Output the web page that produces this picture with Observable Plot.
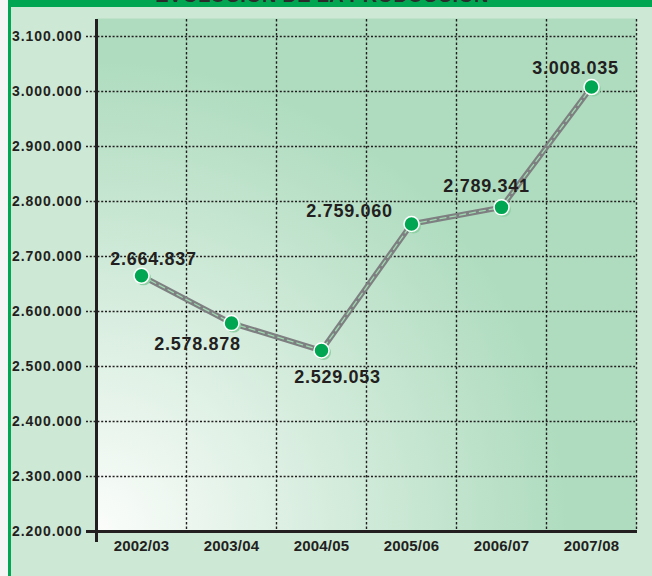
<!DOCTYPE html>
<html>
<head>
<meta charset="utf-8">
<script src="https://cdn.jsdelivr.net/npm/d3@7"></script>
<script src="https://cdn.jsdelivr.net/npm/@observablehq/plot@0.6"></script>
<style>
  html, body { margin: 0; padding: 0; background: #ffffff; }
  #wrap { position: relative; width: 652px; height: 576px; background: #cde8d5; overflow: hidden;
          font-family: "Liberation Sans", Arial, Helvetica, sans-serif; }
  #strip { position: absolute; left: 0; top: 0; width: 8px; height: 576px; background: #f4f5f4; }
  #vline { position: absolute; left: 8px; top: 0; width: 3px; height: 576px; background: #00a651; }
  #band { position: absolute; left: 8px; top: 0; width: 644px; height: 7px; background: #00a651; overflow: hidden; }
  #title { position: absolute; left: 0; width: 100%; top: -15.5px; line-height: 20px; text-align: center;
           font-size: 20px; font-weight: bold; color: #2b2b2b; letter-spacing: 0.3px; margin-left: -8px; }
  #chart { position: absolute; left: 0; top: 0; }
  #chart svg { background: transparent; overflow: visible; }
  g[aria-label="y-axis tick label"] text { letter-spacing: 0.9px; }
  g[aria-label="x-axis tick label"] text { letter-spacing: 0.2px; }
  g[aria-label="text"] text { letter-spacing: 0.7px; }
</style>
</head>
<body>
<div id="wrap">
  <div id="strip"></div>
  <div id="vline"></div>
  <div id="band"><div id="title">EVOLUCIÓN DE LA PRODUCCIÓN</div></div>
  <div id="chart"></div>
</div>
<script>
// ---- data ----
const seasons = ["2002/03", "2003/04", "2004/05", "2005/06", "2006/07", "2007/08"];
const production = [2664837, 2578878, 2529053, 2759060, 2789341, 3008035];
const yTicks = [2200000, 2300000, 2400000, 2500000, 2600000, 2700000, 2800000, 2900000, 3000000, 3100000];
// label offsets (relative to each point)
const labelDx = [12, -34, 16, -62, -15, -16];
const labelDy = [-17, 21, 27, -13, -21, -19];

const W = 652, H = 576, ML = 96, MR = 16, MT = 18, MB = 45;
const bw = (W - ML - MR) / seasons.length;

const es = d3.formatLocale({decimal: ",", thousands: ".", grouping: [3], currency: ["", ""]});
const fmt = es.format(",");

const rows = seasons.map((s, i) => ({season: s, value: production[i], dx: labelDx[i], dy: labelDy[i]}));

const textMarks = rows.map(r => Plot.text([r], {
  x: "season", y: "value", text: d => fmt(d.value),
  dx: r.dx, dy: r.dy, fontSize: 18, fontWeight: "bold", fill: "#231f20"
}));

const chart = Plot.plot({
  width: W, height: H,
  marginLeft: ML, marginRight: MR, marginTop: MT, marginBottom: MB,
  style: {fontFamily: '"Liberation Sans", Arial, Helvetica, sans-serif', background: "transparent", color: "#231f20"},
  x: {type: "band", domain: seasons, padding: 0, label: null},
  y: {domain: [2200000, 3132700], label: null},
  marks: [
    Plot.frame({fill: "url(#bggrad)", stroke: null}),
    Plot.ruleY(yTicks.slice(1), {stroke: "#231f20", strokeWidth: 1.4, strokeDasharray: "2,1.8", insetLeft: -10, insetRight: 1}),
    Plot.ruleX(seasons, {x: d => d, dx: bw / 2, stroke: "#231f20", strokeWidth: 1.4, strokeDasharray: "2.5,2.2", insetTop: 1}),
    Plot.ruleX([seasons[0]], {x: d => d, dx: -bw / 2, stroke: "#231f20", strokeWidth: 3, insetTop: 1, insetBottom: -11}),
    Plot.ruleY([yTicks[0]], {stroke: "#231f20", strokeWidth: 3, insetLeft: -10, insetRight: -1}),
    Plot.axisY({ticks: yTicks, tickFormat: fmt, tickSize: 0, tickPadding: 14, fontSize: 14, fontWeight: "bold"}),
    Plot.axisX({tickSize: 0, tickPadding: 9, fontSize: 15, fontWeight: "bold"}),
    Plot.line(rows, {x: "season", y: "value", stroke: "#7e7f80", strokeWidth: 5.5}),
    Plot.line(rows, {x: "season", y: "value", stroke: "#9fd8b0", strokeWidth: 1.3, strokeDasharray: "6,4"}),
    Plot.dot(rows, {x: "season", y: "value", r: 7.5, dx: 2, dy: 2, fill: "#8fd1a4", stroke: null}),
    Plot.dot(rows, {x: "season", y: "value", r: 7.5, fill: "#00a651", stroke: "#ffffff", strokeWidth: 1.5}),
    ...textMarks
  ]
});

const defs = d3.select(chart).insert("defs", ":first-child");
const g = defs.append("radialGradient").attr("id", "bggrad")
  .attr("gradientUnits", "userSpaceOnUse")
  .attr("cx", ML).attr("cy", H - MB).attr("r", 470);
g.append("stop").attr("offset", "0%").attr("stop-color", "#fbfdfb");
g.append("stop").attr("offset", "45%").attr("stop-color", "#d9eee0");
g.append("stop").attr("offset", "100%").attr("stop-color", "#afdcbf");

document.getElementById("chart").appendChild(chart);
</script>
</body>
</html>
